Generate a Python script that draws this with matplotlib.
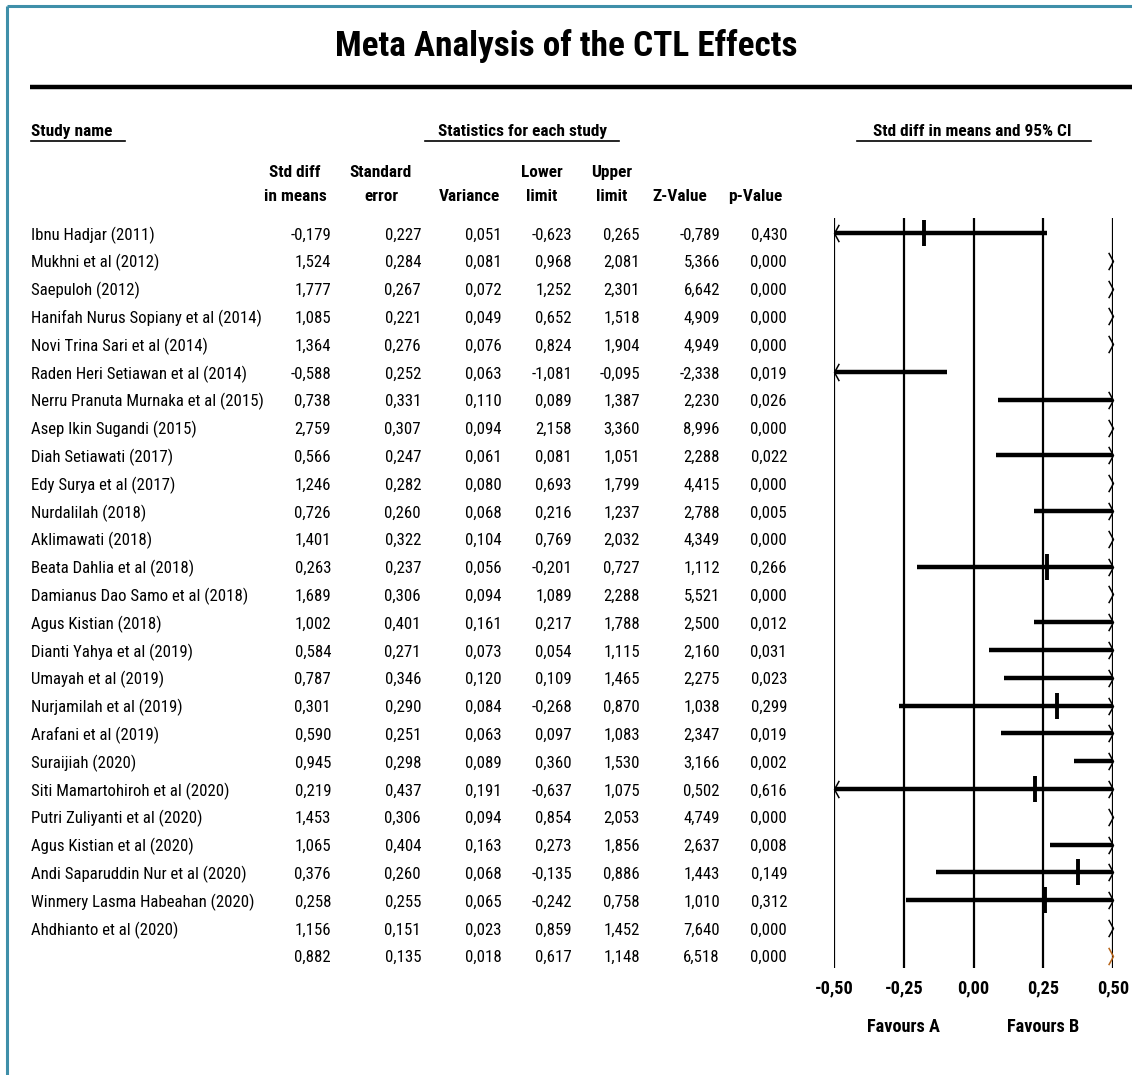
import matplotlib
matplotlib.use('Agg')
import matplotlib.pyplot as plt
from matplotlib import font_manager
from matplotlib.path import Path
import matplotlib.transforms as mtransforms

# ---- data -------------------------------------------------------------
studies = [
    'Ibnu Hadjar (2011)', 'Mukhni et al (2012)', 'Saepuloh (2012)',
    'Hanifah Nurus Sopiany et al (2014)', 'Novi Trina Sari et al (2014)',
    'Raden Heri Setiawan et al (2014)', 'Nerru Pranuta Murnaka et al (2015)',
    'Asep Ikin Sugandi (2015)', 'Diah Setiawati (2017)', 'Edy Surya et al (2017)',
    'Nurdalilah (2018)', 'Aklimawati (2018)', 'Beata Dahlia et al (2018)',
    'Damianus Dao Samo et al (2018)', 'Agus Kistian (2018)',
    'Dianti Yahya et al (2019)', 'Umayah et al (2019)', 'Nurjamilah et al (2019)',
    'Arafani et al (2019)', 'Suraijiah (2020)', 'Siti Mamartohiroh et al (2020)',
    'Putri Zuliyanti et al (2020)', 'Agus Kistian et al (2020)',
    'Andi Saparuddin Nur et al (2020)', 'Winmery Lasma Habeahan (2020)',
    'Ahdhianto et al (2020)',
]
std_diff = [-0.179, 1.524, 1.777, 1.085, 1.364, -0.588, 0.738, 2.759, 0.566, 1.246,
            0.726, 1.401, 0.263, 1.689, 1.002, 0.584, 0.787, 0.301, 0.590, 0.945,
            0.219, 1.453, 1.065, 0.376, 0.258, 1.156]
std_err = [0.227, 0.284, 0.267, 0.221, 0.276, 0.252, 0.331, 0.307, 0.247, 0.282,
           0.260, 0.322, 0.237, 0.306, 0.401, 0.271, 0.346, 0.290, 0.251, 0.298,
           0.437, 0.306, 0.404, 0.260, 0.255, 0.151]
variance = [0.051, 0.081, 0.072, 0.049, 0.076, 0.063, 0.110, 0.094, 0.061, 0.080,
            0.068, 0.104, 0.056, 0.094, 0.161, 0.073, 0.120, 0.084, 0.063, 0.089,
            0.191, 0.094, 0.163, 0.068, 0.065, 0.023]
lower = [-0.623, 0.968, 1.252, 0.652, 0.824, -1.081, 0.089, 2.158, 0.081, 0.693,
         0.216, 0.769, -0.201, 1.089, 0.217, 0.054, 0.109, -0.268, 0.097, 0.360,
         -0.637, 0.854, 0.273, -0.135, -0.242, 0.859]
upper = [0.265, 2.081, 2.301, 1.518, 1.904, -0.095, 1.387, 3.360, 1.051, 1.799,
         1.237, 2.032, 0.727, 2.288, 1.788, 1.115, 1.465, 0.870, 1.083, 1.530,
         1.075, 2.053, 1.856, 0.886, 0.758, 1.452]
z_value = [-0.789, 5.366, 6.642, 4.909, 4.949, -2.338, 2.230, 8.996, 2.288, 4.415,
           2.788, 4.349, 1.112, 5.521, 2.500, 2.160, 2.275, 1.038, 2.347, 3.166,
           0.502, 4.749, 2.637, 1.443, 1.010, 7.640]
p_value = [0.430, 0.000, 0.000, 0.000, 0.000, 0.019, 0.026, 0.000, 0.022, 0.000,
           0.005, 0.000, 0.266, 0.000, 0.012, 0.031, 0.023, 0.299, 0.019, 0.002,
           0.616, 0.000, 0.008, 0.149, 0.312, 0.000]

# pooled (last row)
summary_stats = [0.882, 0.135, 0.018, 0.617, 1.148, 6.518, 0.000]

x_ticks = [-0.50, -0.25, 0.00, 0.25, 0.50]

# ---- fonts: look for a narrow sans, otherwise Liberation Sans ----------
ttf = font_manager.fontManager.ttflist
names = {f.name for f in ttf}
FONT, STRETCH = 'Liberation Sans', 'normal'
for cand in ['Liberation Sans Narrow', 'Arial Narrow', 'Roboto Condensed',
             'Noto Sans Condensed', 'Open Sans Condensed', 'DejaVu Sans Condensed',
             'Noto Sans SemiCondensed', 'Open Sans SemiCondensed']:
    if cand in names:
        FONT = cand
        break
else:
    for fam in ['Roboto', 'Noto Sans', 'Open Sans', 'DejaVu Sans']:
        if any(f.name == fam and str(f.stretch) in ('condensed', 'semi-condensed')
               for f in ttf):
            FONT, STRETCH = fam, 'condensed'
            break
plt.rcParams['font.family'] = [FONT, 'DejaVu Sans']
plt.rcParams['font.stretch'] = STRETCH

W, H = 1132, 1075
fig = plt.figure(figsize=(W / 100, H / 100), dpi=100)
fig.patch.set_facecolor('white')
renderer = fig.canvas.get_renderer()


def fit_size(sample, target_px, weight='normal'):
    t = fig.text(0, 0, sample, fontsize=10, fontweight=weight)
    w = t.get_window_extent(renderer).width
    t.remove()
    return 10 * target_px / w


BODY = fit_size('Ibnu Hadjar (2011)', 123)
HEAD = fit_size('Statistics for each study', 168, 'bold')
TITLE = fit_size('Meta Analysis of the CTL Effects', 462, 'bold')
TICK = fit_size('Favours A', 73, 'bold')

# overlay in pixel coordinates for the table / headers
ov = fig.add_axes([0, 0, 1, 1])
ov.set_xlim(0, W)
ov.set_ylim(H, 0)
ov.axis('off')

ROW0, ROWSTEP = 233, 27.8


def row_y(i):
    return ROW0 + ROWSTEP * i


def fmt(v):
    return f'{v:.3f}'.replace('.', ',')


# frame
ov.plot([7, 7], [6, H], color='#3f8fa9', lw=2.2, solid_capstyle='butt')
ov.plot([7, W], [6, 6], color='#3f8fa9', lw=2.2, solid_capstyle='butt')

# title
ov.text(566, 46, 'Meta Analysis of the CTL Effects', ha='center', va='center',
        fontsize=TITLE, fontweight='bold')
ov.plot([30, W], [87, 87], color='black', lw=3.2, solid_capstyle='butt')

# group headers
hdr = dict(fontsize=HEAD, fontweight='bold')
ov.text(31, 136, 'Study name', ha='left', va='baseline', **hdr)
ov.plot([31, 125], [141, 141], color='black', lw=1.2)
ov.text(523, 136, 'Statistics for each study', ha='center', va='baseline', **hdr)
ov.plot([425, 619], [141, 141], color='black', lw=1.2)
ov.text(972, 136, 'Std diff in means and 95% CI', ha='center', va='baseline', **hdr)
ov.plot([857, 1091], [141, 141], color='black', lw=1.2)

# column headers
col_right = [331, 421, 502, 572, 640, 720, 787]
col_head = [(295, 'Std diff', 'in means'), (381, 'Standard', 'error'),
            (469, '', 'Variance'), (542, 'Lower', 'limit'), (612, 'Upper', 'limit'),
            (680, '', 'Z-Value'), (755, '', 'p-Value')]
for cx, l1, l2 in col_head:
    if l1:
        ov.text(cx, 177, l1, ha='center', va='baseline', **hdr)
    ov.text(cx, 201, l2, ha='center', va='baseline', **hdr)

# table rows
columns = [std_diff, std_err, variance, lower, upper, z_value, p_value]
for i, name in enumerate(studies):
    y = row_y(i) + 2
    ov.text(31, y, name, ha='left', va='center', fontsize=BODY)
    for xr, col in zip(col_right, columns):
        ov.text(xr, y, fmt(col[i]), ha='right', va='center', fontsize=BODY)
ys = row_y(len(studies)) + 2
for xr, v in zip(col_right, summary_stats):
    ov.text(xr, ys, fmt(v), ha='right', va='center', fontsize=BODY)

# ---- forest plot -------------------------------------------------------
top_px, bot_px = 218, 968
x0_px, x1_px = 834, 1113
ax = fig.add_axes([x0_px / W, 1 - bot_px / H, (x1_px - x0_px) / W, (bot_px - top_px) / H])
ax.set_xlim(-0.5, 0.5)
ax.set_ylim((bot_px - ROW0) / ROWSTEP, (top_px - ROW0) / ROWSTEP)
for s in ax.spines.values():
    s.set_visible(False)
ax.set_facecolor('none')
ax.set_yticks([])
ax.set_xticks(x_ticks)
ax.set_xticklabels([fmt(t)[:-1] for t in x_ticks], fontweight='bold', fontsize=TICK)
ax.tick_params(axis='x', length=0, pad=8)
for t in x_ticks:
    ax.axvline(t, color='black', lw=1.6, zorder=1)

right_chev = Path([(-0.55, 1), (0, 0), (-0.55, -1)], [Path.MOVETO, Path.LINETO, Path.LINETO])
left_chev = Path([(0.55, 1), (0, 0), (0.55, -1)], [Path.MOVETO, Path.LINETO, Path.LINETO])


def draw_row(i, est, lo, hi, color='black'):
    lo_c, hi_c = max(lo, -0.5), min(hi, 0.5)
    if lo_c < hi_c:
        ax.plot([lo_c, hi_c], [i, i], color=color, lw=3.2, solid_capstyle='butt', zorder=3)
    if -0.5 <= est <= 0.5:
        ax.plot([est], [i], marker='|', ms=19, mew=2.8, color=color, zorder=4)
    if hi > 0.5:
        ax.plot([0.5], [i], marker=right_chev, ms=12.5, mew=1.1, mfc='none', mec=color,
                clip_on=False, zorder=5)
    if lo < -0.5:
        ax.plot([-0.5], [i], marker=left_chev, ms=12.5, mew=1.1, mfc='none', mec=color,
                clip_on=False, zorder=5)


for i in range(len(studies)):
    draw_row(i, std_diff[i], lower[i], upper[i])
draw_row(len(studies), summary_stats[0], summary_stats[3], summary_stats[4],
         color='#b8651a')

trans = mtransforms.blended_transform_factory(ax.transData, ov.transData)
ax.text(-0.25, 1027, 'Favours A', transform=trans, ha='center', va='center',
        fontsize=TICK, fontweight='bold')
ax.text(0.25, 1027, 'Favours B', transform=trans, ha='center', va='center',
        fontsize=TICK, fontweight='bold')

fig.savefig('out.png', dpi=100, facecolor='white')
